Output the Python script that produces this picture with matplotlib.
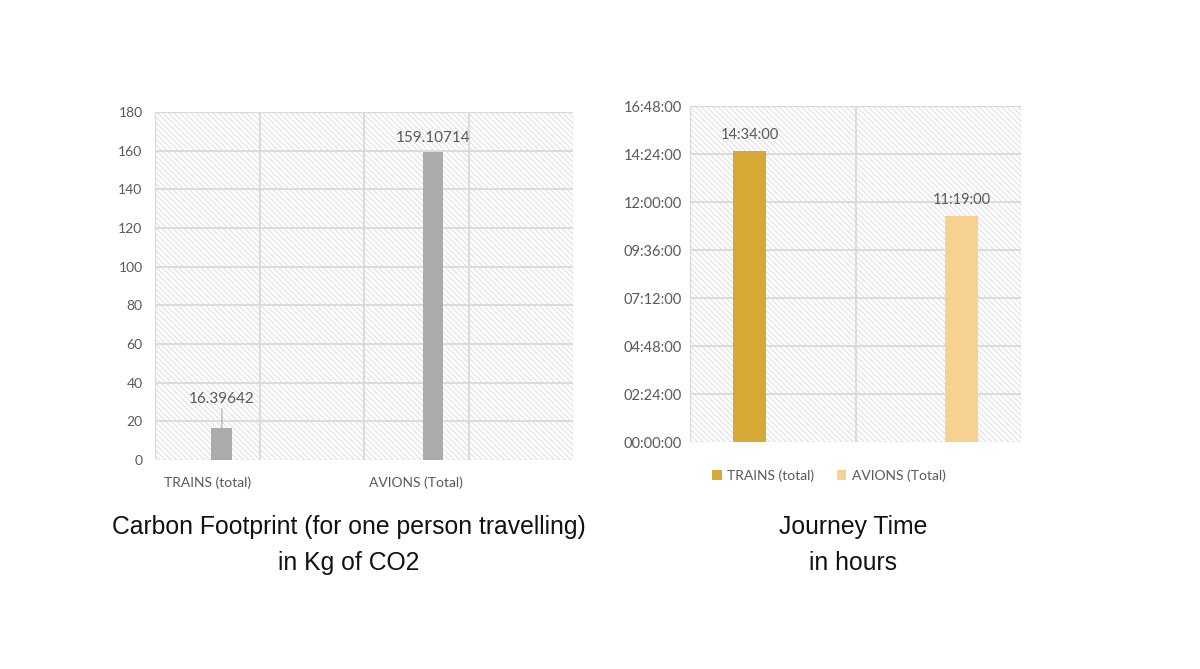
import matplotlib.pyplot as plt
from matplotlib.patches import Rectangle

# data
categories = ['TRAINS (total)', 'AVIONS (Total)']
co2_kg = [16.39642, 159.10714]
co2_labels = ['16.39642', '159.10714']
journey_min = [14 * 60 + 34, 11 * 60 + 19]
journey_labels = ['14:34:00', '11:19:00']
time_ticks = ['00:00:00', '02:24:00', '04:48:00', '07:12:00', '09:36:00',
              '12:00:00', '14:24:00', '16:48:00']

plt.rcParams['hatch.linewidth'] = 0.6
plt.rcParams['hatch.color'] = '#d4d4d4'

tick_font = 'Lato'
tick_col = '#595959'
grid_col = '#d9d9d9'

fig = plt.figure(figsize=(12, 6.69), dpi=100)


def style_axes(ax, size):
    bg = Rectangle((0, 0), 1, 1, transform=ax.transAxes, facecolor='white',
                   edgecolor=grid_col, hatch='\\\\\\\\\\\\', lw=1.0, zorder=0)
    ax.add_patch(bg)
    for s in ax.spines.values():
        s.set_visible(False)
    ax.tick_params(length=0, colors=tick_col, labelsize=size)
    for lab in ax.get_yticklabels() + ax.get_xticklabels():
        lab.set_fontfamily(tick_font)
    ax.set_axisbelow(True)


# left chart: carbon footprint
ax1 = fig.add_axes([155 / 1200, 1 - 460 / 669, 418 / 1200, 348 / 669])
ax1.set_xlim(0, 4)
ax1.set_ylim(0, 180)
ax1.set_yticks(range(0, 181, 20))
xpos1 = [0.64, 2.66]
ax1.bar(xpos1, co2_kg, width=0.2, color='#ababab', zorder=3)
for x in [1, 2, 3]:
    ax1.axvline(x, color=grid_col, lw=1.3, zorder=1)
for y in range(20, 180, 20):
    ax1.axhline(y, color=grid_col, lw=1.3, zorder=1)
ax1.set_xticks([0.5, 2.5])
ax1.set_xticklabels(categories)
ax1.tick_params(axis='x', pad=12)
ax1.tick_params(axis='y', pad=9)
# labels
ax1.annotate(co2_labels[0], xy=(xpos1[0], co2_kg[0]), xytext=(xpos1[0], 28),
             ha='center', va='bottom', fontsize=11, color=tick_col, family=tick_font,
             arrowprops=dict(arrowstyle='-', color='#a5a5a5', lw=0.8,
                             shrinkA=0, shrinkB=0))
ax1.text(xpos1[1], co2_kg[1] + 4, co2_labels[1], ha='center', va='bottom',
         fontsize=11, color=tick_col, family=tick_font)
style_axes(ax1, 10)

# right chart: journey time
ax2 = fig.add_axes([690 / 1200, 1 - 442 / 669, 331 / 1200, 336 / 669])
ax2.set_xlim(0, 2)
ax2.set_ylim(0, 16.8)
ax2.set_yticks([i * 2.4 for i in range(8)])
ax2.set_yticklabels(time_ticks)
hours = [m / 60 for m in journey_min]
xpos2 = [0.36, 1.64]
cols = ['#d6a835', '#f7d18f']
for x, h, c, lab in zip(xpos2, hours, cols, categories):
    ax2.bar(x, h, width=0.195, color=c, zorder=3, label=lab)
ax2.axvline(1, color=grid_col, lw=1.3, zorder=1)
for i in range(1, 7):
    ax2.axhline(i * 2.4, color=grid_col, lw=1.3, zorder=1)
for x, h, lab in zip(xpos2, hours, journey_labels):
    ax2.text(x, h + 0.45, lab, ha='center', va='bottom', fontsize=10.5,
             color=tick_col, family=tick_font)
ax2.set_xticks([])
ax2.tick_params(axis='y', pad=6)
style_axes(ax2, 10.5)
leg = ax2.legend(loc='upper center', bbox_to_anchor=(0.42, -0.045), ncol=2,
                 frameon=False, handlelength=0.7, handleheight=0.7,
                 handletextpad=0.4, columnspacing=1.6,
                 prop={'family': tick_font, 'size': 10})
for t in leg.get_texts():
    t.set_color(tick_col)

# captions
cap_font = 'Liberation Sans'
cap_size = 17.8
fig.text(349 / 1200, 1 - 527 / 669, 'Carbon Footprint (for one person travelling)',
         ha='center', va='center', fontsize=cap_size, family=cap_font, color='#111111')
fig.text(349 / 1200, 1 - 563 / 669, 'in Kg of CO2',
         ha='center', va='center', fontsize=cap_size, family=cap_font, color='#111111')
fig.text(853 / 1200, 1 - 527 / 669, 'Journey Time',
         ha='center', va='center', fontsize=cap_size, family=cap_font, color='#111111')
fig.text(853 / 1200, 1 - 563 / 669, 'in hours',
         ha='center', va='center', fontsize=cap_size, family=cap_font, color='#111111')

fig.savefig('out.png', dpi=100, facecolor='white')
